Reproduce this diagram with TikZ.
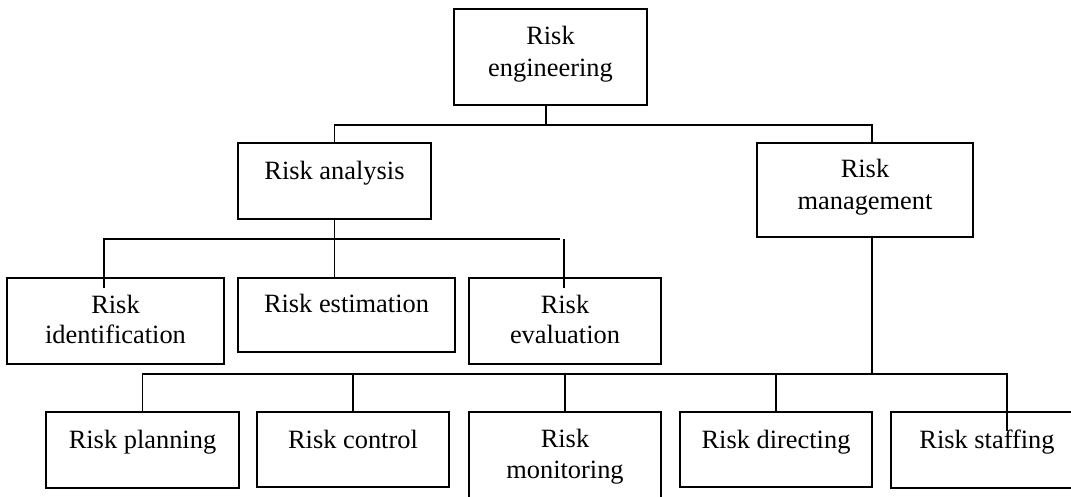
\documentclass[tikz,border=0pt]{standalone}
\usepackage{fontspec}
\setmainfont{Liberation Serif}
\begin{document}
\begin{tikzpicture}[x=1pt,y=-1pt,
  box/.style={draw, line width=1.5pt, rectangle, inner sep=0pt},
  lbl/.style={inner sep=0pt, anchor=base, font=\fontsize{26.4}{31}\selectfont},
  conn/.style={line width=1.5pt}]
\clip (0,0) rectangle (1071,496);
\fill[white] (0,0) rectangle (1071,496);
% boxes
\node[box, minimum width=193pt, minimum height=96pt] (re) at (550.5,57) {};
\node[box, minimum width=193pt, minimum height=76pt] (ra) at (334.5,181) {};
\node[box, minimum width=216pt, minimum height=94pt] (rm) at (865,190) {};
\node[box, minimum width=217pt, minimum height=86pt] (id) at (115.5,321) {};
\node[box, minimum width=217pt, minimum height=74pt] (es) at (346.5,315) {};
\node[box, minimum width=192pt, minimum height=86pt] (ev) at (565,321) {};
\node[box, minimum width=193pt, minimum height=76pt] (pl) at (142.5,450) {};
\node[box, minimum width=192pt, minimum height=75pt] (co) at (353,449.5) {};
\node[box, minimum width=192pt, minimum height=98pt] (mo) at (565,461) {};
\node[box, minimum width=192pt, minimum height=75pt] (di) at (776,449.5) {};
\node[box, minimum width=192pt, minimum height=76pt] (st) at (987,450) {};
% labels
\node[lbl] (re1) at (550.5,44) {Risk};
\node[lbl] (re2) at (550.5,76) {engineering};
\node[lbl] (ra1) at (334.5,179) {Risk analysis};
\node[lbl] (rm1) at (865,177) {Risk};
\node[lbl] (rm2) at (865,209) {management};
\node[lbl] (id1) at (115.5,313) {Risk};
\node[lbl] (id2) at (115.5,343) {identification};
\node[lbl] (es1) at (346.5,312) {Risk estimation};
\node[lbl] (ev1) at (565,313) {Risk};
\node[lbl] (ev2) at (565,343) {evaluation};
\node[lbl] (pl1) at (142.5,448) {Risk planning};
\node[lbl] (co1) at (353,448) {Risk control};
\node[lbl] (mo1) at (565,447) {Risk};
\node[lbl] (mo2) at (565,478) {monitoring};
\node[lbl] (di1) at (776,448) {Risk directing};
\node[lbl] (st1) at (987,448) {Risk staffing};
% junction coordinates
\coordinate (j1) at (546,125);
\coordinate (rmx) at (872,374);
\coordinate (idx) at (104,288);
\coordinate (evl) at (560,239);
\coordinate (evx) at (564,288);
\coordinate (stx) at (1007,431);
% connectors
\draw[conn] (re.south -| j1) -- (j1);
\draw[conn] (ra.north) |- (j1);
\draw[conn] (j1) -| (rm.north -| rmx);
\draw[conn] (ra.south) -- (ra.south |- es.north);
\draw[conn] (idx) |- (evl);
\draw[conn] (evx) -- (evx |- evl);
\draw[conn] (rm.south -| rmx) -- (rmx);
\draw[conn] (pl.north) |- (rmx);
\draw[conn] (rmx) -| (stx);
\draw[conn] (co.north) -- (co.north |- rmx);
\draw[conn] (mo.north) -- (mo.north |- rmx);
\draw[conn] (di.north) -- (di.north |- rmx);
\end{tikzpicture}
\end{document}
